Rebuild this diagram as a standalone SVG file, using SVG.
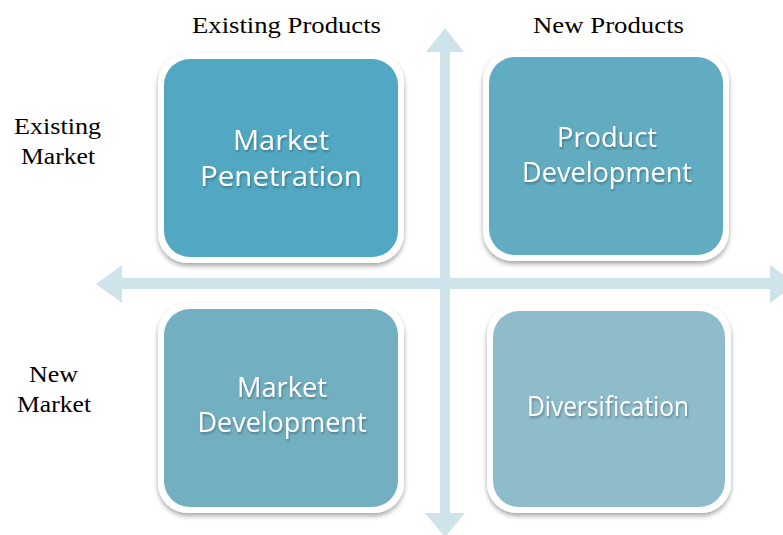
<svg xmlns="http://www.w3.org/2000/svg" width="783" height="535" viewBox="0 0 783 535">
  <defs>
    <filter id="shadow" x="-10%" y="-10%" width="120%" height="125%">
      <feGaussianBlur in="SourceAlpha" stdDeviation="2.5"/>
      <feOffset dx="0" dy="3" result="b"/>
      <feComponentTransfer><feFuncA type="linear" slope="0.35"/></feComponentTransfer>
      <feMerge><feMergeNode/><feMergeNode in="SourceGraphic"/></feMerge>
    </filter>
    <filter id="tshadow" x="-10%" y="-30%" width="120%" height="160%">
      <feGaussianBlur in="SourceAlpha" stdDeviation="1"/>
      <feOffset dx="1" dy="1.5"/>
      <feComponentTransfer><feFuncA type="linear" slope="0.3"/></feComponentTransfer>
      <feMerge><feMergeNode/><feMergeNode in="SourceGraphic"/></feMerge>
    </filter>
  </defs>
  <style>
    .axis { fill: #cfe3ea; }
    .frame { fill: #ffffff; filter: url(#shadow); }
    .box-label { font-family: "Open Sans", "Liberation Sans", sans-serif; font-size: 27px; fill: #ffffff; text-anchor: middle; filter: url(#tshadow); }
    .heading { font-family: "Liberation Serif", "DejaVu Serif", serif; font-size: 23px; fill: #000000; text-anchor: middle; }
  </style>
  <rect width="783" height="535" fill="#ffffff"/>

  <!-- axes -->
  <g id="connectors">
    <path class="axis" d="M440,52 L426,52 L445,28 L464,52 L450,52 L450,513 L465,513 L445,537 L425,513 L440,513 Z"/>
    <path class="axis" d="M122,278 L122,265 L96,284 L122,303 L122,289 L770,289 L770,303 L796,284 L770,265 L770,278 Z"/>
  </g>

  <g id="market-penetration">
    <rect class="frame" x="158" y="53" width="246" height="210" rx="30"/>
    <rect x="164" y="59" width="234" height="198" rx="26" fill="#52a8c3"/>
    <text class="box-label" x="281" y="150" textLength="96" lengthAdjust="spacingAndGlyphs">Market</text>
    <text class="box-label" x="281" y="186" textLength="162" lengthAdjust="spacingAndGlyphs">Penetration</text>
  </g>

  <g id="product-development">
    <rect class="frame" x="483" y="51" width="246" height="210" rx="30"/>
    <rect x="489" y="57" width="234" height="198" rx="26" fill="#62acc1"/>
    <text class="box-label" x="607" y="147" textLength="100" lengthAdjust="spacingAndGlyphs">Product</text>
    <text class="box-label" x="607" y="182" textLength="170" lengthAdjust="spacingAndGlyphs">Development</text>
  </g>

  <g id="market-development">
    <rect class="frame" x="158" y="303" width="246" height="210" rx="30"/>
    <rect x="164" y="309" width="234" height="198" rx="26" fill="#72b0c1"/>
    <text class="box-label" x="282" y="397" textLength="90" lengthAdjust="spacingAndGlyphs">Market</text>
    <text class="box-label" x="282" y="432" textLength="169" lengthAdjust="spacingAndGlyphs">Development</text>
  </g>

  <g id="diversification">
    <rect class="frame" x="487" y="305" width="244" height="208" rx="30"/>
    <rect x="493" y="311" width="232" height="196" rx="26" fill="#8ebccb"/>
    <text class="box-label" x="608" y="416" textLength="162" lengthAdjust="spacingAndGlyphs">Diversification</text>
  </g>

  <g id="headings">
    <text class="heading" x="286.5" y="33" textLength="189" lengthAdjust="spacingAndGlyphs">Existing Products</text>
    <text class="heading" x="608.5" y="33" textLength="151" lengthAdjust="spacingAndGlyphs">New Products</text>
    <text class="heading" x="57.5" y="134" textLength="87" lengthAdjust="spacingAndGlyphs">Existing</text>
    <text class="heading" x="58" y="164" textLength="74" lengthAdjust="spacingAndGlyphs">Market</text>
    <text class="heading" x="53.5" y="382" textLength="49" lengthAdjust="spacingAndGlyphs">New</text>
    <text class="heading" x="54" y="412" textLength="74" lengthAdjust="spacingAndGlyphs">Market</text>
  </g>
</svg>
